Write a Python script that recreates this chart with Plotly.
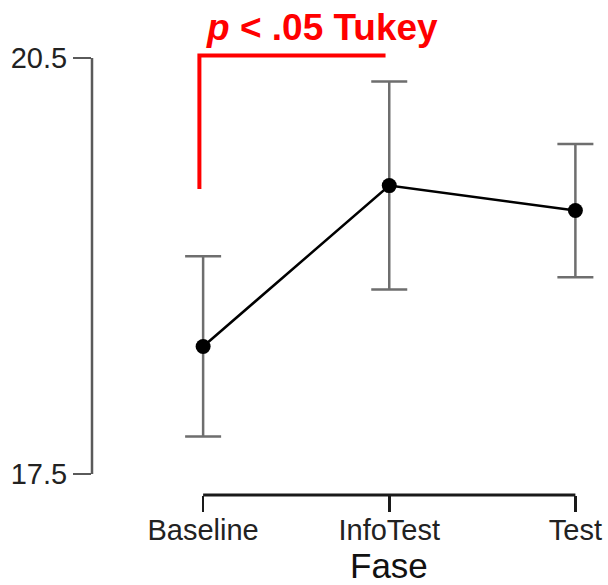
import plotly.graph_objects as go

# Data
fases = ["Baseline", "InfoTest", "Test"]
means = [18.42, 19.58, 19.40]
errors = [0.65, 0.75, 0.48]
y_tick_vals = [17.5, 20.5]
y_tick_text = ["17.5", "20.5"]
x_title = "Fase"
sig_text = "<b><i>p</i> &lt; .05 Tukey</b>"

FONT = "Liberation Sans, Arial, sans-serif"
x_idx = list(range(len(fases)))

fig = go.Figure()
fig.add_trace(go.Scatter(
    x=x_idx, y=means, mode="lines+markers",
    line=dict(color="black", width=2.5),
    marker=dict(color="black", size=15),
    error_y=dict(type="data", array=errors, visible=True,
                 color="#6e6e6e", thickness=2.5, width=18),
    showlegend=False, hoverinfo="skip",
))

# range-frame y spine (17.5 .. 20.5)
fig.add_shape(type="line", xref="paper", yref="y", x0=0, x1=0,
              y0=y_tick_vals[0], y1=y_tick_vals[-1],
              line=dict(color="#5a5a5a", width=2.5))
# range-frame x spine (Baseline .. Test)
fig.add_shape(type="line", xref="x", yref="paper", x0=x_idx[0], x1=x_idx[-1],
              y0=0, y1=0, line=dict(color="#1a1a1a", width=3))

# significance bracket
fig.add_shape(type="path", xref="x", yref="y",
              path=f"M {x_idx[0]-0.02},19.556 L {x_idx[0]-0.02},20.518 L {x_idx[1]-0.02},20.518",
              line=dict(color="red", width=4))
fig.add_annotation(xref="x", yref="paper", x=0.64, y=1.028, text=sig_text,
                   showarrow=False, borderpad=0,
                   font=dict(family=FONT, size=37, color="red"),
                   xanchor="center", yanchor="middle")

# x-axis title centred under the middle category (as in the reference)
fig.add_annotation(xref="x", yref="paper", x=x_idx[1], y=-0.155, text=x_title,
                   showarrow=False, borderpad=0,
                   font=dict(family=FONT, size=35, color="#111"),
                   xanchor="center", yanchor="middle")

fig.update_layout(
    width=608, height=585,
    margin=dict(l=92, r=14, t=40, b=90),
    plot_bgcolor="white", paper_bgcolor="white",
    font=dict(family=FONT, size=29, color="#222"),
    xaxis=dict(range=[-0.597, 2.1], tickvals=x_idx, ticktext=fases,
               showgrid=False, zeroline=False, showline=False, automargin=False,
               ticks="outside", ticklen=16, tickwidth=2.5, tickcolor="#1a1a1a",
               ticklabelstandoff=-7, ticklabeloverflow="allow",
               tickfont=dict(size=29, color="#222")),
    yaxis=dict(range=[17.349, 20.63], tickvals=y_tick_vals, ticktext=y_tick_text,
               showgrid=False, zeroline=False, showline=False, automargin=False,
               ticks="outside", ticklen=18, tickwidth=2.5, tickcolor="#5a5a5a",
               ticklabeloverflow="allow",
               tickfont=dict(size=29, color="#222")),
)

fig.write_html("out.html",
               config={"displayModeBar": False, "staticPlot": True},
               post_script="document.body.style.margin='0';document.body.style.overflow='hidden';")
